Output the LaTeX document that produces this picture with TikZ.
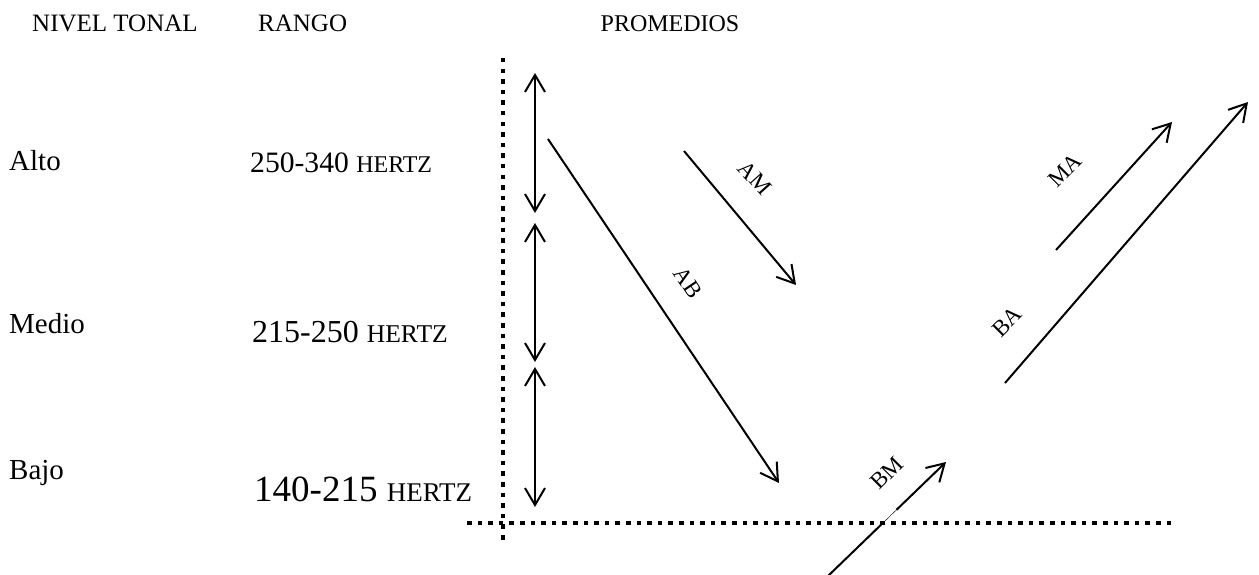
\documentclass[tikz,border=0pt]{standalone}
\usepackage{fontspec}
\setmainfont{Liberation Serif}
\usetikzlibrary{arrows.meta,calc}

\newcommand{\fs}[1]{\fontsize{#1}{#1}\selectfont}

\begin{document}
\begin{tikzpicture}[x=1pt,y=-1pt,
  txt/.style={inner sep=0pt,anchor=base west},
  lbl/.style={inner sep=0pt,font=\fs{23}},
  barb/.tip={Straight Barb[length=17pt,width=20pt,line width=2pt]},
  seg/.style={line width=2pt},
  arr/.style={seg,-barb},
  dbl/.style={seg,barb-barb},
  dots/.style={line width=4.5pt,dash pattern=on 4.5pt off 6.1pt}]
\useasboundingbox (0,0) rectangle (1259,575);

% column headings
\node[txt,font=\fs{25}] (hnivel) at (32,32) {NIVEL TONAL};
\node[txt,font=\fs{25}] (hrango) at (258,32) {RANGO};
\node[inner sep=0pt,anchor=base,font=\fs{24}] (hprom) at (670,32) {PROMEDIOS};

% tone levels
\node[txt,font=\fs{29}] (alto) at (9,171) {Alto};
\node[txt,font=\fs{29}] (medio) at (9,333) {Medio};
\node[txt,font=\fs{29}] (bajo) at (9,479) {Bajo};

% frequency ranges
\node[txt] (ralto) at (250,172) {\fs{29.6}250-340 \fs{24}HERTZ};
\node[txt] (rmedio) at (252,342) {\fs{32}215-250 \fs{25.6}HERTZ};
\node[txt] (rbajo) at (254,501) {\fs{37}140-215 \fs{27}HERTZ};

% dotted axes
\coordinate (vtop) at (503,58);
\coordinate (vbot) at (503,540);
\coordinate (hleft) at (467,523);
\coordinate (hright) at (1175,523);
\draw[dots] (vtop) -- (vbot);
\draw[dots] (hleft) -- (hright);

% range brackets
\coordinate (d1a) at (535,73);  \coordinate (d1b) at (535,213);
\coordinate (d2a) at (535,223); \coordinate (d2b) at (535,362);
\coordinate (d3a) at (535,367); \coordinate (d3b) at (535,507);
\draw[dbl] (d1a) -- (d1b);
\draw[dbl] (d2a) -- (d2b);
\draw[dbl] (d3a) -- (d3b);

% transitions between levels
\coordinate (ab0) at (548,139);  \coordinate (ab1) at (779,483);
\coordinate (am0) at (684,151);  \coordinate (am1) at (796,285);
\coordinate (bm0) at (828,576);  \coordinate (bm1) at (946,462);
\coordinate (ba0) at (1005,383); \coordinate (ba1) at (1248,102);
\coordinate (ma0) at (1056,250); \coordinate (ma1) at (1172,122);
\draw[arr] (ab0) -- (ab1);
\draw[arr] (am0) -- (am1);
\draw[arr] (ba0) -- (ba1);
\draw[arr] (ma0) -- (ma1);

% BM runs thin for a short stretch just above the baseline
\coordinate (bmx) at ($(bm0)!0.465!(bm1)$);
\coordinate (bmy) at ($(bm0)!0.58!(bm1)$);
\draw[seg] (bm0) -- (bmx);
\draw[line width=0.4pt] (bmx) -- (bmy);
\draw[arr] (bmy) -- (bm1);

\node[lbl,rotate=-56] (lab) at (688,283) {AB};
\node[lbl,rotate=-48] (lam) at (755,178) {AM};
\node[lbl,rotate=45] (lbm) at (887,473) {BM};
\node[lbl,rotate=45] (lba) at (1007,322) {BA};
\node[lbl,rotate=45] (lma) at (1065,170) {MA};
\end{tikzpicture}
\end{document}
